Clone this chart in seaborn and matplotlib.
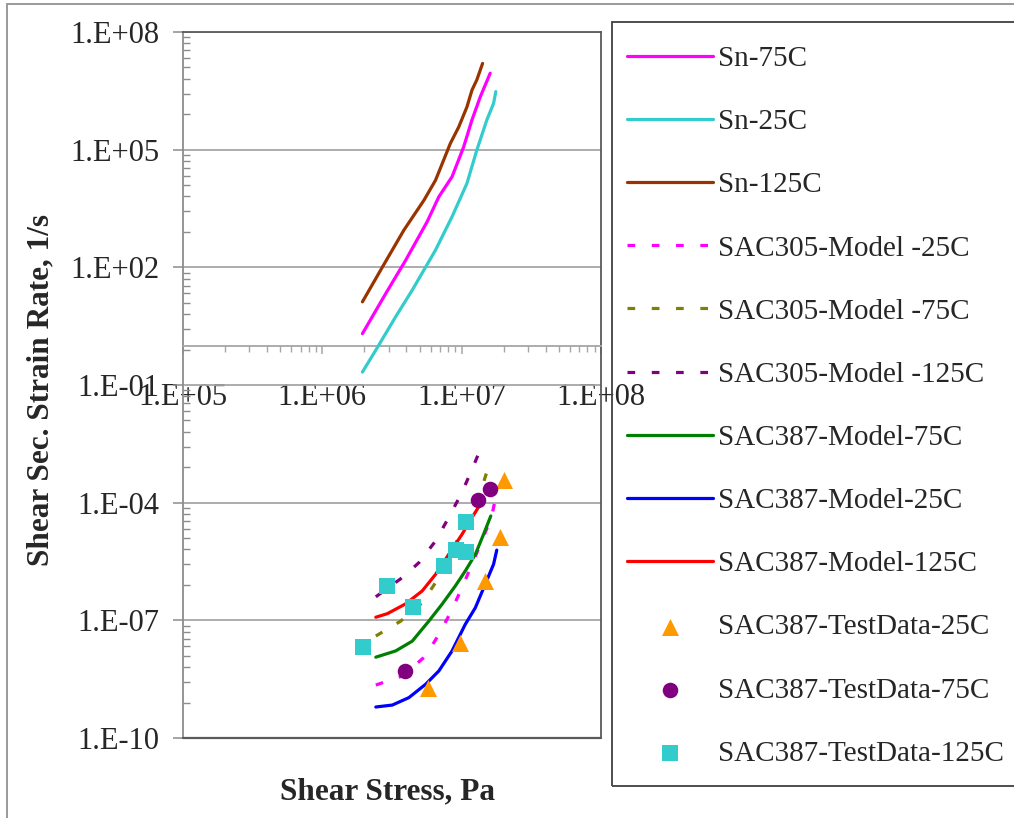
import numpy as np
import pandas as pd
import seaborn as sns
import matplotlib
matplotlib.use("Agg")
import matplotlib.pyplot as plt
from matplotlib.ticker import FixedLocator, FuncFormatter, NullFormatter, LogLocator
from matplotlib.lines import Line2D
from matplotlib.patches import Rectangle

# ---- data: shear stress (Pa) vs shear secant strain rate (1/s) ----
sn75_x = [1.94e6, 2.85e6, 3.96e6, 5.65e6, 6.86e6, 8.53e6, 1.033e7, 1.186e7, 1.361e7, 1.603e7]
sn75_y = [2.04, 21.4, 151, 1.45e3, 6.31e3, 2.04e4, 1.17e5, 5.75e5, 2.24e6, 8.91e6]

sn25_x = [1.94e6, 2.42e6, 3.36e6, 4.42e6, 6.49e6, 8.53e6, 1.091e7, 1.285e7, 1.517e7, 1.694e7, 1.758e7]
sn25_y = [0.214, 0.776, 5.50, 26.3, 275, 1.95e3, 1.38e4, 9.77e4, 5.75e5, 1.51e6, 3.02e6]

sn125_x = [1.94e6, 2.70e6, 3.85e6, 5.36e6, 6.49e6, 8.30e6, 9.53e6, 1.091e7, 1.186e7, 1.285e7, 1.413e7]
sn125_y = [13.2, 102, 891, 5.13e3, 1.66e4, 1.45e5, 3.80e5, 1.23e6, 3.31e6, 6.03e6, 1.58e7]

sac305_25_x = [2.42e6, 3.75e6, 5.51e6, 6.86e6, 8.30e6, 1.005e7, 1.186e7, 1.396e7, 1.644e7, 1.786e7]
sac305_25_y = [2.24e-9, 3.80e-9, 1.23e-8, 4.37e-8, 1.55e-7, 6.76e-7, 2.69e-6, 1.05e-5, 4.57e-5, 1.82e-4]

sac305_75_x = [2.42e6, 3.65e6, 5.21e6, 6.49e6, 8.07e6, 1.005e7, 1.186e7, 1.396e7, 1.603e7]
sac305_75_y = [3.98e-8, 9.55e-8, 2.82e-7, 9.12e-7, 3.98e-6, 1.91e-5, 6.76e-5, 2.40e-4, 1.15e-3]

sac305_125_x = [2.42e6, 3.75e6, 4.93e6, 6.49e6, 8.07e6, 1.005e7, 1.186e7, 1.413e7]
sac305_125_y = [3.98e-7, 1.23e-6, 2.95e-6, 1.05e-5, 4.17e-5, 1.82e-4, 7.08e-4, 3.09e-3]

sac387_75_x = [2.42e6, 3.36e6, 4.42e6, 5.81e6, 7.23e6, 9.02e6, 1.062e7, 1.253e7, 1.435e7, 1.618e7]
sac387_75_y = [1.15e-8, 1.66e-8, 2.95e-8, 9.55e-8, 2.57e-7, 7.59e-7, 1.82e-6, 4.79e-6, 1.55e-5, 4.57e-5]

sac387_25_x = [2.42e6, 3.18e6, 4.18e6, 5.51e6, 6.86e6, 8.53e6, 1.062e7, 1.253e7, 1.476e7, 1.694e7, 1.786e7]
sac387_25_y = [6.17e-10, 6.92e-10, 1.07e-9, 2.34e-9, 5.13e-9, 1.66e-8, 7.94e-8, 2.09e-7, 8.32e-7, 2.69e-6, 6.17e-6]

sac387_125_x = [2.42e6, 2.93e6, 3.96e6, 5.21e6, 6.49e6, 8.07e6, 1.005e7, 1.186e7, 1.361e7]
sac387_125_y = [1.20e-7, 1.48e-7, 2.63e-7, 5.62e-7, 1.48e-6, 4.79e-6, 1.55e-5, 4.17e-5, 9.12e-5]

test25_x = [5.74e6, 9.79e6, 1.459e7, 1.888e7, 2.028e7]
test25_y = [1.91e-9, 2.69e-8, 1.0e-6, 1.32e-5, 3.72e-4]

test75_x = [3.90e6, 1.315e7, 1.603e7]
test75_y = [5.25e-9, 1.15e-4, 2.29e-4]

test125_x = [1.963e6, 2.897e6, 4.467e6, 7.516e6, 9.162e6, 1.081e7, 1.081e7]
test125_y = [2.14e-8, 7.41e-7, 2.24e-7, 2.40e-6, 6.17e-6, 5.37e-6, 3.16e-5]

line_series = [
    ("Sn-75C", sn75_x, sn75_y, "#FF00FF", "solid"),
    ("Sn-25C", sn25_x, sn25_y, "#33CCCC", "solid"),
    ("Sn-125C", sn125_x, sn125_y, "#993300", "solid"),
    ("SAC305-Model -25C", sac305_25_x, sac305_25_y, "#FF00FF", "dash"),
    ("SAC305-Model -75C", sac305_75_x, sac305_75_y, "#808000", "dash"),
    ("SAC305-Model -125C", sac305_125_x, sac305_125_y, "#800080", "dash"),
    ("SAC387-Model-75C", sac387_75_x, sac387_75_y, "#008000", "solid"),
    ("SAC387-Model-25C", sac387_25_x, sac387_25_y, "#0000FF", "solid"),
    ("SAC387-Model-125C", sac387_125_x, sac387_125_y, "#FF0000", "solid"),
]
point_series = [
    ("SAC387-TestData-25C", test25_x, test25_y, "#FF9900", "^", 150),
    ("SAC387-TestData-75C", test75_x, test75_y, "#800080", "o", 125),
    ("SAC387-TestData-125C", test125_x, test125_y, "#33CCCC", "s", 125),
]

sns.set_style("white")
plt.rcParams["font.family"] = ["Liberation Serif", "DejaVu Serif"]

W, H = 1014, 818
fig = plt.figure(figsize=(W / 100, H / 100), dpi=100)
ax = fig.add_axes([183 / W, 1 - 738 / H, (601 - 183) / W, (738 - 32) / H])

LW = 2.3
for name, xs, ys, col, ls in line_series:
    df = pd.DataFrame({"stress": xs, "rate": ys})
    style = (0, (2.4, 5.2)) if ls == "dash" else "-"
    sns.lineplot(data=df, x="stress", y="rate", ax=ax, color=col, lw=LW,
                 linestyle=style, estimator=None, sort=False, label=name,
                 zorder=3)
for name, xs, ys, col, mk, sz in point_series:
    df = pd.DataFrame({"stress": xs, "rate": ys})
    sns.scatterplot(data=df, x="stress", y="rate", ax=ax, color=col, marker=mk,
                    s=sz, linewidth=0, label=name, zorder=4)

ax.set_xscale("log")
ax.set_yscale("log")
ax.set_xlim(1e5, 1e8)
ax.set_ylim(1e-10, 1e8)
ax.set_xlabel("")
ax.set_ylabel("")

grid_col = "#A6A6A6"
frame_col = "#5A5A5A"

# x axis drawn where the strain rate equals 1
ax.spines["bottom"].set_position(("data", 1))
ax.spines["bottom"].set_color(grid_col)
ax.spines["bottom"].set_linewidth(1.3)
ax.spines["left"].set_color("#8C8C8C")
ax.spines["left"].set_linewidth(1.3)
for s in ("top", "right"):
    ax.spines[s].set_color(frame_col)
    ax.spines[s].set_linewidth(1.3)
ax.plot([0, 1], [0, 0], transform=ax.transAxes, color=frame_col, lw=1.6,
        clip_on=False, zorder=5)

# y ticks: majors every three decades, minors at k^3 multiples
y_major = [10.0 ** e for e in range(-10, 9, 3)]
y_minor = [10.0 ** e * k ** 3 for e in range(-10, 8, 3) for k in range(2, 10)]
ax.yaxis.set_major_locator(FixedLocator(y_major))
ax.yaxis.set_minor_locator(FixedLocator(y_minor))
ax.yaxis.set_minor_formatter(NullFormatter())

ax.xaxis.set_major_locator(FixedLocator([1e5, 1e6, 1e7, 1e8]))
ax.xaxis.set_minor_locator(LogLocator(base=10, subs=np.arange(2, 10), numticks=20))
ax.xaxis.set_minor_formatter(NullFormatter())

def excel_fmt(v, pos):
    return "1.E{:+03d}".format(int(round(np.log10(v))))

ax.xaxis.set_major_formatter(FuncFormatter(excel_fmt))
ax.yaxis.set_major_formatter(FuncFormatter(excel_fmt))

ax.tick_params(axis="y", which="major", direction="out", length=7, width=1.1,
               color="#8C8C8C", labelsize=22, pad=10, left=True)
ax.tick_params(axis="y", which="minor", direction="in", length=5, width=1.0,
               color="#8C8C8C", left=True)
ax.tick_params(axis="x", which="major", direction="out", length=6, width=1.1,
               color=grid_col, labelsize=22, pad=21, bottom=True)
ax.tick_params(axis="x", which="minor", direction="out", length=4.5, width=1.0,
               color=grid_col, bottom=True)

ax.yaxis.grid(True, which="major", color=grid_col, lw=1.3)
ax.xaxis.grid(False)
ax.set_axisbelow(True)

fig.text(388 / W, 1 - 792 / H, "Shear Stress, Pa", ha="center", va="center",
         fontsize=22.5, fontweight="bold")
fig.text(41 / W, 1 - 390 / H, "Shear Sec. Strain Rate, 1/s", ha="center",
         va="center", rotation=90, fontsize=22.5, fontweight="bold")

# outer chart frame
fig.add_artist(Line2D([7 / W, 1], [1 - 3.5 / H, 1 - 3.5 / H], color="#9A9A9A", lw=1.4))
fig.add_artist(Line2D([7 / W, 7 / W], [0, 1 - 3.5 / H], color="#9A9A9A", lw=1.4))

# legend box
fig.add_artist(Rectangle((612 / W, 1 - 786 / H), (1030 - 612) / W, (786 - 22) / H,
                         transform=fig.transFigure, fill=False,
                         edgecolor="#404040", lw=1.3, zorder=6))

handles, labels = ax.get_legend_handles_labels()
leg = ax.legend(handles, labels, loc="upper left",
                bbox_to_anchor=(612 / W, 1 - 31 / H), bbox_transform=fig.transFigure,
                borderaxespad=0, fontsize=21, frameon=False, handlelength=2.95,
                handletextpad=0.2, labelspacing=1.26, borderpad=0.5,
                markerscale=1.0)

fig.savefig("out.png", dpi=100)
